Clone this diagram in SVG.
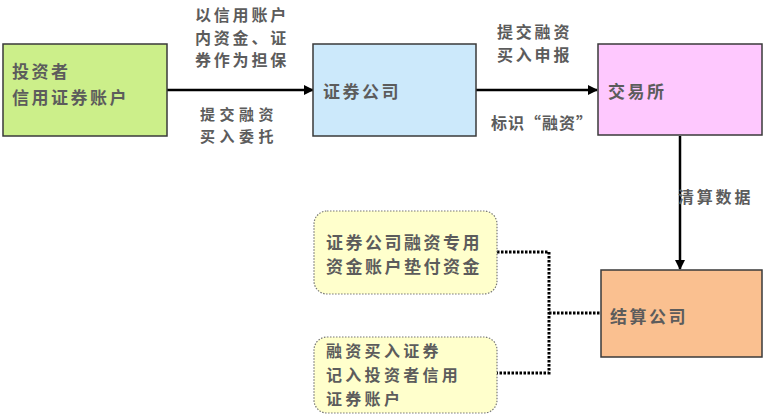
<svg xmlns="http://www.w3.org/2000/svg" width="763" height="415" viewBox="0 0 763 415">
<defs>
<style>
.box{stroke:#3a3a3a;stroke-width:1.5}
.note{fill:#ffffcc;stroke:#777;stroke-width:1.2;stroke-dasharray:1.5 1.5}
text{font-family:"Noto Sans CJK SC","Liberation Sans",sans-serif;font-size:17px;font-weight:bold;fill:#5c5c5c;letter-spacing:2.5px}
.lbl{font-size:16px;letter-spacing:2.8px}
.line{stroke:#000;stroke-width:2.5;fill:none}
.dot{stroke:#000;stroke-width:3;fill:none;stroke-dasharray:2.5 1.5}
</style>
<marker id="ah" viewBox="0 0 10 10" refX="9" refY="5" markerWidth="4" markerHeight="4" orient="auto" markerUnits="strokeWidth">
<path d="M0,0 L10,5 L0,10 z" fill="#000"/>
</marker>
</defs>
<rect width="763" height="415" fill="#fff"/>
<g id="connectors">
<line class="line" x1="167" y1="90" x2="313" y2="90" marker-end="url(#ah)"/>
<line class="line" x1="476" y1="90" x2="597" y2="90" marker-end="url(#ah)"/>
<line class="line" x1="680" y1="136" x2="680" y2="269" marker-end="url(#ah)"/>
<polyline class="dot" points="497,252 549,252 549,373 497,373"/>
<line class="dot" x1="549" y1="313" x2="601" y2="313"/>
<text class="lbl" x="195" y="21">以信用账户<tspan x="195" dy="23">内资金、证</tspan><tspan x="195" dy="22">券作为担保</tspan></text>
<text class="lbl" x="200" y="120" style="font-size:15px;letter-spacing:4.5px">提交融资<tspan x="200" dy="22">买入委托</tspan></text>
<text class="lbl" x="497" y="38">提交融资<tspan x="497" dy="23">买入申报</tspan></text>
<text class="lbl" x="491" y="129" style="letter-spacing:1px">标识“融资”</text>
<text class="lbl" x="678" y="203">清算数据</text>
</g>
<g id="investor">
<rect class="box" x="3" y="44" width="164" height="92" fill="#ccef8a"/>
<text x="12" y="78">投资者<tspan x="12" dy="26">信用证券账户</tspan></text>
</g>
<g id="broker">
<rect class="box" x="313" y="44" width="163" height="92" fill="#cce9fb"/>
<text x="323" y="98">证券公司</text>
</g>
<g id="exchange">
<rect class="box" x="598" y="44" width="164" height="91" fill="#fec8fe"/>
<text x="608" y="98">交易所</text>
</g>
<g id="clearing">
<rect class="box" x="601" y="270" width="161" height="87" fill="#fac090"/>
<text x="610" y="323">结算公司</text>
</g>
<g id="note1">
<rect class="note" x="314" y="211" width="183" height="83" rx="13"/>
<text x="326" y="249">证券公司融资专用<tspan x="326" dy="24">资金账户垫付资金</tspan></text>
</g>
<g id="note2">
<rect class="note" x="314" y="337" width="183" height="76" rx="13"/>
<text x="326" y="357" style="font-size:16px;letter-spacing:3.3px">融资买入证券<tspan x="326" dy="24">记入投资者信用</tspan><tspan x="326" dy="24">证券账户</tspan></text>
</g>
</svg>
